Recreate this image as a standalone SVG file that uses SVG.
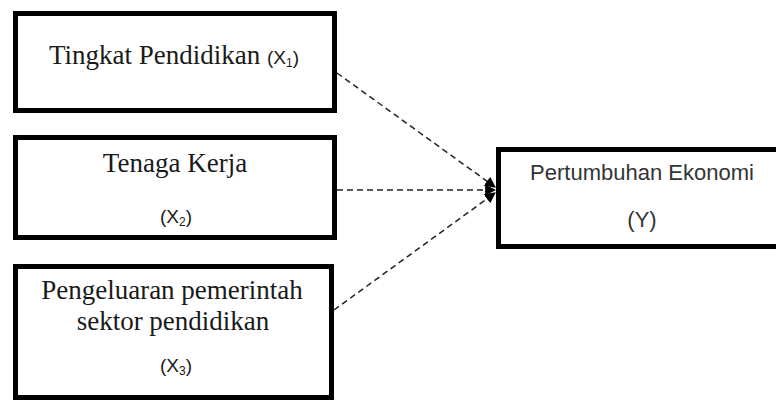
<svg xmlns="http://www.w3.org/2000/svg" width="776" height="403" viewBox="0 0 776 403">
<style>
.box{fill:#fff;stroke:#000;stroke-width:5}
.serif{font-family:"Liberation Serif","Times New Roman",serif;font-size:27px;fill:#1a1a1a}
.sans{font-family:"Liberation Sans",Arial,sans-serif;font-size:19px;fill:#1a1a1a}
.ysans{font-family:"Liberation Sans",Arial,sans-serif;font-size:22px;fill:#333}
.sub{font-size:12px}
.conn{stroke:#222;stroke-width:1.5;stroke-dasharray:6 4;fill:none}
</style>
<defs>
<marker id="ah" viewBox="0 0 10 10" refX="9" refY="5" markerWidth="11" markerHeight="11" markerUnits="userSpaceOnUse" orient="auto">
<path d="M0,0 L10,5 L0,10 z" fill="#000"/>
</marker>
</defs>
<rect width="776" height="403" fill="#fff"/>
<g id="connectors">
<line class="conn" x1="337" y1="73" x2="495" y2="187" marker-end="url(#ah)"/>
<line class="conn" x1="337" y1="190" x2="495" y2="190" marker-end="url(#ah)"/>
<line class="conn" x1="334" y1="310" x2="495" y2="193" marker-end="url(#ah)"/>
</g>
<g id="x1">
<rect class="box" x="15.5" y="13.5" width="319" height="97"/>
<text class="serif" x="49" y="64">Tingkat Pendidikan <tspan class="sans">(X<tspan class="sub" dy="3">1</tspan><tspan dy="-3">)</tspan></tspan></text>
</g>
<g id="x2">
<rect class="box" x="15.5" y="137.5" width="319" height="100"/>
<text class="serif" x="175" y="172" text-anchor="middle">Tenaga Kerja</text>
<text class="sans" x="176" y="223" text-anchor="middle">(X<tspan class="sub" dy="3">2</tspan><tspan dy="-3">)</tspan></text>
</g>
<g id="x3">
<rect class="box" x="15.5" y="266.5" width="316" height="131"/>
<text class="serif" x="172" y="299" text-anchor="middle">Pengeluaran pemerintah</text>
<text class="serif" x="173" y="330" text-anchor="middle">sektor pendidikan</text>
<text class="sans" x="176" y="372" text-anchor="middle">(X<tspan class="sub" dy="3">3</tspan><tspan dy="-3">)</tspan></text>
</g>
<g id="y">
<rect class="box" x="498.5" y="149.5" width="290" height="97"/>
<text class="ysans" x="642" y="180" text-anchor="middle">Pertumbuhan Ekonomi</text>
<text class="ysans" x="642" y="227" text-anchor="middle">(Y)</text>
</g>
</svg>
